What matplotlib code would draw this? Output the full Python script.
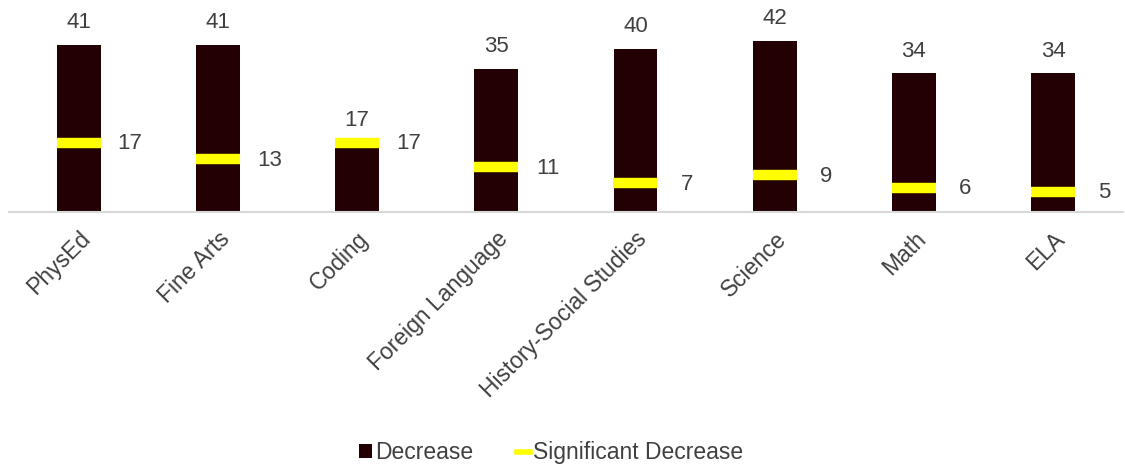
import matplotlib.pyplot as plt
from matplotlib.lines import Line2D
from matplotlib.patches import Patch

plt.rcParams['font.family'] = ['Liberation Sans', 'DejaVu Sans']

subjects = ["PhysEd", "Fine Arts", "Coding", "Foreign Language",
            "History-Social Studies", "Science", "Math", "ELA"]
decrease = [41, 41, 17, 35, 40, 42, 34, 34]
significant = [17, 13, 17, 11, 7, 9, 6, 5]

BAR_COLOR = "#230003"
MARK_COLOR = "#FFFF00"
TEXT_COLOR = "#404040"

fig = plt.figure(figsize=(11.25, 4.66), dpi=100)
ax = fig.add_axes([0.008, 0.545, 0.99, 0.455])

x = list(range(len(subjects)))
ax.bar(x, decrease, width=0.315, color=BAR_COLOR, zorder=2)
# significant decrease drawn as a thick horizontal dash across each bar
ax.plot(x, significant, linestyle="none", marker="_", markersize=32,
        markeredgewidth=7.5, color=MARK_COLOR, zorder=3)

for xi, v in zip(x, decrease):
    ax.text(xi, v + 2.9, str(v), ha="center", va="bottom",
            fontsize=16, color=TEXT_COLOR)
for xi, v in zip(x, significant):
    ax.text(xi + 0.37, v - 0.3, str(v), ha="center", va="center",
            fontsize=16, color=TEXT_COLOR)

ax.set_xlim(-0.5, len(subjects) - 0.5)
ax.set_ylim(0, 52)
ax.set_yticks([])
ax.set_xticks(x)
ax.set_xticklabels(subjects, rotation=45, ha="right", rotation_mode="anchor",
                   fontsize=16.5, color=TEXT_COLOR)
ax.tick_params(axis="x", length=0, pad=11)
for side in ["top", "right", "left"]:
    ax.spines[side].set_visible(False)
ax.spines["bottom"].set_color("#D9D9D9")
ax.spines["bottom"].set_linewidth(1.5)

handles = [
    Patch(facecolor=BAR_COLOR, label="Decrease"),
    Line2D([0], [0], color=MARK_COLOR, linewidth=4, label="Significant Decrease"),
]
leg = fig.legend(handles=handles, loc="center", bbox_to_anchor=(0.49, 0.028),
                 ncol=2, frameon=False, fontsize=16.5, handlelength=0.55,
                 handleheight=0.55, handletextpad=0.15, columnspacing=1.9)
for t in leg.get_texts():
    t.set_color(TEXT_COLOR)

fig.savefig("out.png", dpi=100)
